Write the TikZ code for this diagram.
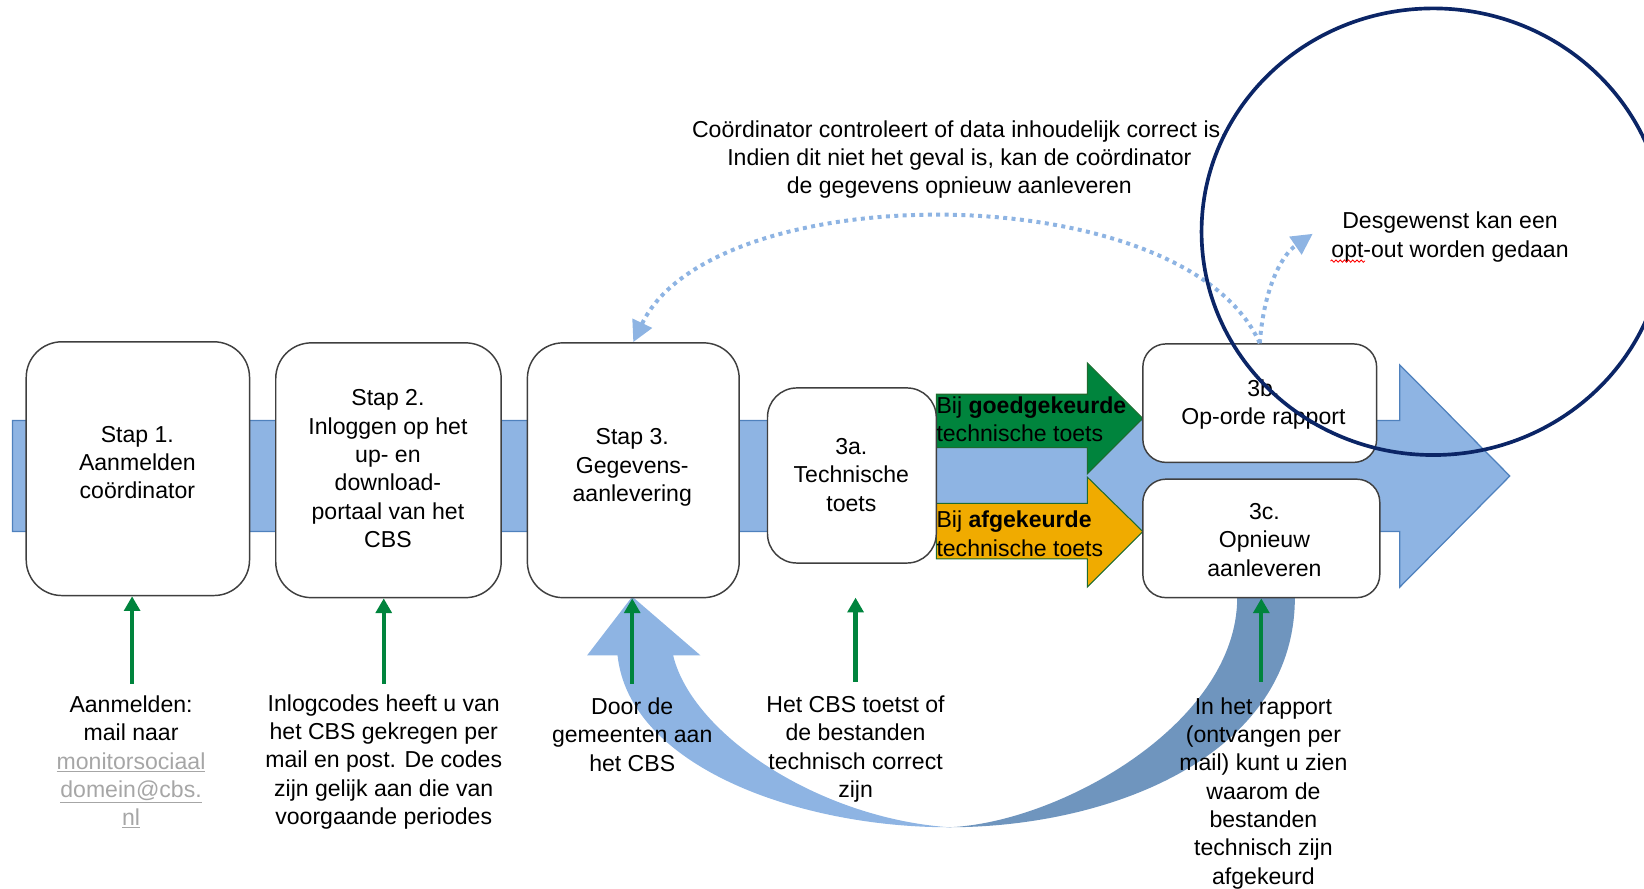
\documentclass[tikz,border=0pt]{standalone}
\usepackage{fontspec}
\setmainfont{Liberation Sans}
\usetikzlibrary{arrows.meta,decorations.pathmorphing,shapes.geometric}
\definecolor{lblue}{HTML}{8EB4E3}
\definecolor{dblue}{HTML}{6F95BE}
\definecolor{bandline}{HTML}{4F81BD}
\definecolor{gr}{HTML}{00843D}
\definecolor{grline}{HTML}{1E6B2E}
\definecolor{orng}{HTML}{F0AB00}
\definecolor{navy}{HTML}{0B2566}
\definecolor{boxline}{HTML}{3F3F3F}
\definecolor{mailgray}{HTML}{A6A6A6}
\begin{document}
\begin{tikzpicture}[x=1pt,y=-1pt,
  stepbox/.style={draw=boxline, line width=1.4pt, fill=white, inner sep=0pt},
  txt/.style={font=\fontsize{22}{27}\selectfont, align=center, inner sep=0pt, text=black},
  garrow/.style={draw=gr, line width=4pt, -{Triangle[length=14pt,width=15pt]}},
  dots/.style={draw=lblue, line width=3.8pt, dash pattern=on 3.8pt off 4.2pt, -{Triangle[length=20pt,width=20pt]}}]
\useasboundingbox (0,0) rectangle (1568,847);
\clip (0,0) rectangle (1568,847);

% main band arrow
\filldraw[fill=lblue, draw=bandline, line width=1.2pt]
  (12,401) -- (1335,401) -- (1335,348) -- (1440,454) -- (1335,560) -- (1335,507) -- (12,507) -- cycle;

% curved arrow (dark back part, light front part)
\fill[dblue] (1235,570) .. controls (1235,720) and (1060,789) .. (905,789)
  .. controls (1010,785) and (1180,690) .. (1180,570) -- cycle;
\fill[lblue] (905,789) .. controls (760,789) and (600,730) .. (589,625)
  -- (560,625) -- (603,569) -- (668,625) -- (642,625)
  .. controls (660,700) and (780,780) .. (905,789) -- cycle;

% green and orange arrows
\filldraw[fill=gr, draw=grline, line width=1pt]
  (893,376) -- (1037,376) -- (1037,346) -- (1090,399) -- (1037,452) -- (1037,427) -- (893,427) -- cycle;
\filldraw[fill=orng, draw=grline, line width=1pt]
  (893,480) -- (1037,480) -- (1037,455) -- (1090,507) -- (1037,560) -- (1037,533) -- (893,533) -- cycle;

% boxes
\node[stepbox, rounded corners=34pt, minimum width=213pt, minimum height=242pt] (b1) at (131.5,447) {};
\node[stepbox, rounded corners=34pt, minimum width=215pt, minimum height=243pt] (b2) at (370.5,448.5) {};
\node[stepbox, rounded corners=34pt, minimum width=202pt, minimum height=243pt] (b3) at (604,448.5) {};
\node[stepbox, rounded corners=28pt, minimum width=161pt, minimum height=167pt] (b3a) at (812.5,453.5) {};
\node[stepbox, rounded corners=22pt, minimum width=223pt, minimum height=113pt] (b3b) at (1201.5,384.5) {};
\node[stepbox, rounded corners=22pt, minimum width=226pt, minimum height=113pt] (b3c) at (1203,513.5) {};

% dotted connectors
\coordinate (optend) at (1252,223);
\draw[dots] (b3b.north) .. controls (1130,167) and (680,167) .. (b3.north);
\draw[dots] (b3b.north) .. controls (1205,280) and (1220,245) .. (optend);

% box texts
\node[txt] (t1) at (131,441) {Stap 1.\\Aanmelden\\coördinator};
\node[txt] (t2) at (370,447) {Stap 2.\\Inloggen op het\\up- en\\download-\\portaal van het\\CBS};
\node[txt] (t3) at (603,446) {Stap 3.\\Gegevens-\\aanlevering};
\node[txt] (t3a) at (812,453) {3a.\\Technische\\toets};
\node[txt] (t3b) at (1205,386) {3b.\\Op-orde rapport};
\node[txt] (t3c) at (1206,515) {3c.\\Opnieuw\\aanleveren};
\node[txt, anchor=west, align=left] (tg) at (893,400) {Bij \textbf{goedgekeurde}\\technische toets};
\node[txt, anchor=west, align=left] (to) at (893,509) {Bij \textbf{afgekeurde}\\technische toets};

% other texts
\node[txt] (top) at (915,152) {Coördinator controleert of data inhoudelijk correct is.\\Indien dit niet het geval is, kan de coördinator\\de gegevens opnieuw aanleveren};
\node[txt] (opt) at (1383,226) {Desgewenst kan een\\opt-out worden gedaan};
\draw[red, line width=0.8pt, decorate, decoration={snake, amplitude=1.1pt, segment length=4pt}] (1269,249) -- (1302,249);
\node[txt] (a1) at (125,726.5) {Aanmelden:\\mail naar\\{\color{mailgray}\underline{monitorsociaal}}\\{\color{mailgray}\underline{domein@cbs.}}\\{\color{mailgray}\underline{nl}}};
\node[txt] (a2) at (366,726.5) {Inlogcodes heeft u van\\het CBS gekregen per\\mail en post. De codes\\zijn gelijk aan die van\\voorgaande periodes};
\node[txt] (a3) at (603,700.5) {Door de\\gemeenten aan\\het CBS};
\node[txt] (a4) at (816,714.5) {Het CBS toetst of\\de bestanden\\technisch correct\\zijn};
\node[txt] (a5) at (1205,756.5) {In het rapport\\(ontvangen per\\mail) kunt u zien\\waarom de\\bestanden\\technisch zijn\\afgekeurd};

% green up arrows
\coordinate (g1) at (126,652);
\coordinate (g2) at (366,652);
\coordinate (g3) at (603,652);
\coordinate (g4) at (816,650);
\coordinate (g4t) at (816,570);
\coordinate (g5) at (1203,650);
\draw[garrow] (g1) -- (g1 |- b1.south);
\draw[garrow] (g2) -- (g2 |- b2.south);
\draw[garrow] (g3) -- (g3 |- b3.south);
\draw[garrow] (g4) -- (g4t);
\draw[garrow] (g5) -- (g5 |- b3c.south);

% navy ellipse
\node[draw=navy, line width=3.5pt, ellipse, minimum width=442pt, minimum height=426pt, inner sep=0pt] (ell) at (1367,221) {};
\end{tikzpicture}
\end{document}
